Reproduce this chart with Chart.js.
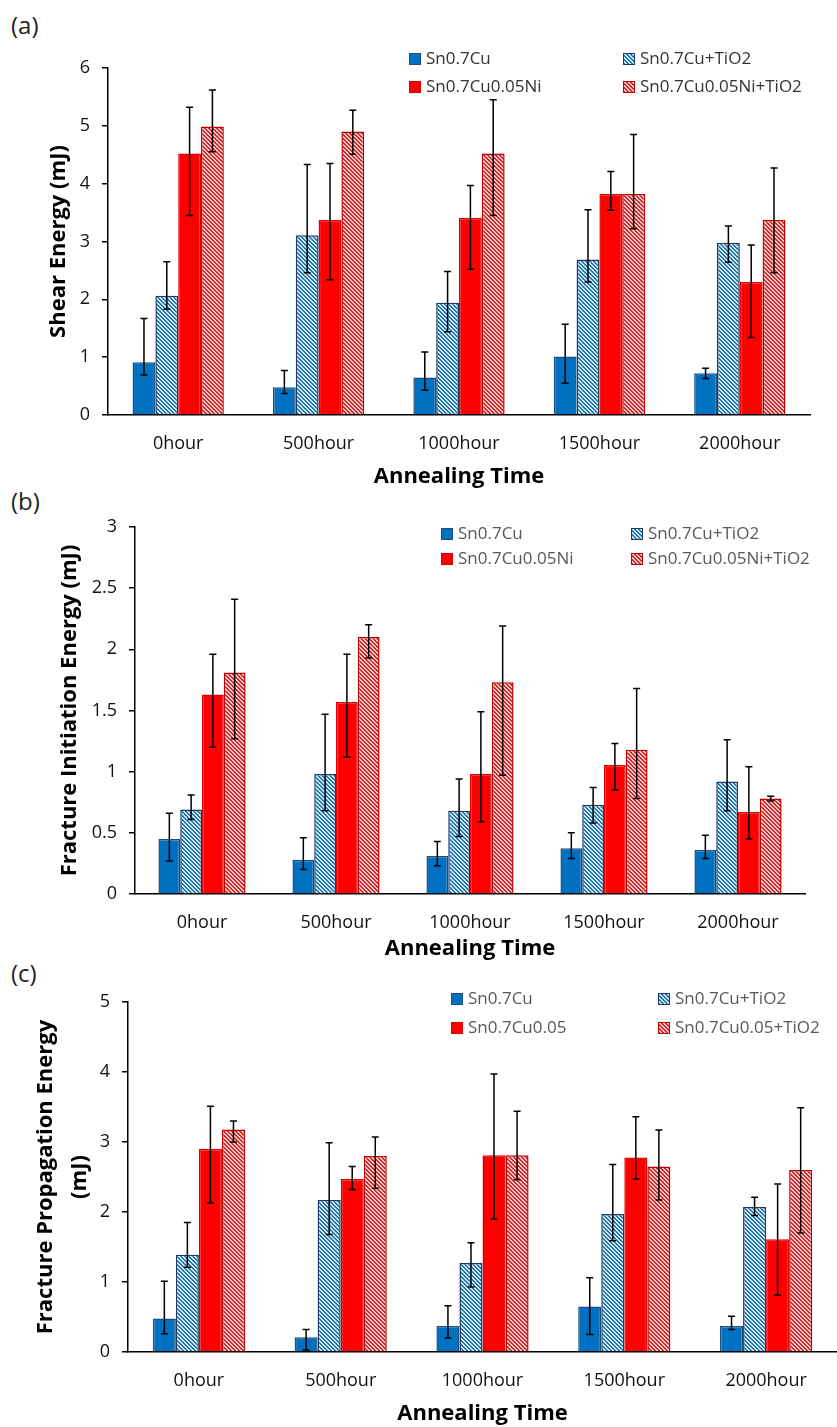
<!DOCTYPE html>
<html>
<head>
<meta charset="utf-8">
<script src="https://cdn.jsdelivr.net/npm/chart.js@4.4.0/dist/chart.umd.min.js"></script>
<style>
body { margin: 0; background: #fff; font-family: "Open Sans", sans-serif; }
#page { position: relative; width: 837px; height: 1427px; overflow: hidden; }
.panel { position: absolute; left: 0; width: 837px; }
.tag { position: absolute; left: 11px; font-size: 24px; color: #222; line-height: 28px; }
.leg { position: absolute; font-size: 17px; line-height: 20px; white-space: nowrap; }
.sw { display: inline-block; width: 12px; height: 12px; box-sizing: border-box; border: 1.5px solid; margin-right: 5px; position: relative; top: 1px; }
</style>
</head>
<body>
<div id="page">
	<div class="tag" style="top:11px">(a)</div>
	<div class="tag" style="top:487px">(b)</div>
	<div class="tag" style="top:959px">(c)</div>
	<div class="panel" style="top:0;height:490px"><canvas id="chartA"></canvas></div>
	<div class="panel" style="top:490px;height:472px"><canvas id="chartB"></canvas></div>
	<div class="panel" style="top:960px;height:467px"><canvas id="chartC"></canvas></div>
	<div id="legends"></div>
</div>
<script>
const hours = ['0hour', '500hour', '1000hour', '1500hour', '2000hour'];
const namesAB = ['Sn0.7Cu', 'Sn0.7Cu+TiO2', 'Sn0.7Cu0.05Ni', 'Sn0.7Cu0.05Ni+TiO2'];
const namesC = ['Sn0.7Cu', 'Sn0.7Cu+TiO2', 'Sn0.7Cu0.05', 'Sn0.7Cu0.05+TiO2'];

// (a) shear energy (mJ); Hi / Lo are the ends of the error bars
const shearCu = [0.91, 0.48, 0.65, 1.01, 0.72];
const shearCuHi = [1.67, 0.77, 1.09, 1.57, 0.81];
const shearCuLo = [0.69, 0.37, 0.43, 0.55, 0.63];
const shearCuTi = [2.06, 3.11, 1.94, 2.69, 2.98];
const shearCuTiHi = [2.65, 4.33, 2.48, 3.55, 3.27];
const shearCuTiLo = [1.83, 2.46, 1.44, 2.30, 2.64];
const shearNi = [4.52, 3.37, 3.41, 3.82, 2.30];
const shearNiHi = [5.32, 4.35, 3.97, 4.21, 2.94];
const shearNiLo = [3.45, 2.34, 2.52, 3.54, 1.34];
const shearNiTi = [4.99, 4.90, 4.52, 3.82, 3.37];
const shearNiTiHi = [5.62, 5.27, 5.45, 4.85, 4.27];
const shearNiTiLo = [4.55, 4.51, 3.45, 3.22, 2.46];
const shearTicks = [0, 6, 1];

// (b) fracture initiation energy (mJ)
const initCu = [0.45, 0.28, 0.31, 0.375, 0.36];
const initCuHi = [0.66, 0.46, 0.43, 0.50, 0.48];
const initCuLo = [0.27, 0.20, 0.23, 0.29, 0.29];
const initCuTi = [0.69, 0.98, 0.68, 0.73, 0.92];
const initCuTiHi = [0.81, 1.47, 0.94, 0.87, 1.26];
const initCuTiLo = [0.61, 0.68, 0.47, 0.58, 0.68];
const initNi = [1.63, 1.57, 0.98, 1.055, 0.67];
const initNiHi = [1.96, 1.96, 1.49, 1.23, 1.04];
const initNiLo = [1.20, 1.12, 0.59, 0.85, 0.45];
const initNiTi = [1.81, 2.10, 1.73, 1.18, 0.78];
const initNiTiHi = [2.41, 2.20, 2.19, 1.68, 0.80];
const initNiTiLo = [1.27, 1.93, 0.97, 0.78, 0.76];
const initTicks = [0, 3, 0.5];

// (c) fracture propagation energy (mJ)
const propCu = [0.48, 0.21, 0.37, 0.65, 0.37];
const propCuHi = [1.01, 0.32, 0.66, 1.06, 0.51];
const propCuLo = [0.26, 0.03, 0.20, 0.25, 0.32];
const propCuTi = [1.39, 2.17, 1.27, 1.97, 2.07];
const propCuTiHi = [1.85, 2.99, 1.56, 2.68, 2.21];
const propCuTiLo = [1.21, 1.68, 0.93, 1.59, 1.95];
const propNi = [2.90, 2.47, 2.81, 2.78, 1.61];
const propNiHi = [3.51, 2.65, 3.97, 3.36, 2.40];
const propNiLo = [2.13, 2.32, 1.90, 2.47, 0.81];
const propNiTi = [3.18, 2.80, 2.81, 2.65, 2.60];
const propNiTiHi = [3.30, 3.07, 3.44, 3.17, 3.49];
const propNiTiLo = [3.00, 2.34, 2.46, 2.17, 1.70];
const propTicks = [0, 5, 1];

const FONT = '"Open Sans", sans-serif';

// diagonal hatch like Excel's "wide downward diagonal"
function makeHatch(bg, fg) {
	let tile = document.createElement('canvas');
	tile.width = 4;
	tile.height = 4;
	let c = tile.getContext('2d');
	c.fillStyle = bg;
	c.fillRect(0, 0, 4, 4);
	c.fillStyle = fg;
	for (let y = 0; y < 4; y++) {
		for (let x = 0; x < 4; x++) {
			let d = ((x - y) % 4 + 4) % 4;
			if (d == 0 || d == 1) c.fillRect(x, y, 1, 1);
		}
	}
	return c.createPattern(tile, 'repeat');
}

const fills = ['#0070C0', makeHatch('#CFE6F1', '#2478A8'), '#FF0000', makeHatch('#F6CACA', '#CC2A2A')];
const borders = ['#1F4E79', '#1F3864', '#E00000', '#C00000'];

const errorBars = {
	id: 'errorBars',
	afterDatasetsDraw(chart) {
		const ctx = chart.ctx;
		const y = chart.scales.y;
		ctx.save();
		ctx.strokeStyle = '#000';
		ctx.lineWidth = 1.5;
		chart.data.datasets.forEach(function(ds, i) {
			chart.getDatasetMeta(i).data.forEach(function(bar, j) {
				let top = y.getPixelForValue(ds.errHi[j]);
				let bot = y.getPixelForValue(ds.errLo[j]);
				ctx.beginPath();
				ctx.moveTo(bar.x, top); ctx.lineTo(bar.x, bot);
				ctx.moveTo(bar.x - 3.5, top); ctx.lineTo(bar.x + 3.5, top);
				ctx.moveTo(bar.x - 3.5, bot); ctx.lineTo(bar.x + 3.5, bot);
				ctx.stroke();
			});
		});
		ctx.restore();
	}
};

function buildChart(id, names, vals, his, los, ticks, yTitle, g) {
	let datasets = [];
	for (let i = 0; i < 4; i++) {
		datasets.push({
			label: names[i],
			data: vals[i],
			errHi: his[i],
			errLo: los[i],
			backgroundColor: fills[i],
			borderColor: borders[i],
			borderWidth: 1.5,
			barPercentage: 1,
			categoryPercentage: 0.65
		});
	}
	return new Chart(document.getElementById(id).getContext('2d'), {
		type: 'bar',
		data: { labels: hours, datasets: datasets },
		options: {
			responsive: true,
			maintainAspectRatio: false,
			animation: false,
			layout: { padding: { top: g.top, right: g.right, bottom: 0, left: 0 } },
			plugins: { legend: { display: false }, tooltip: { enabled: false } },
			scales: {
				x: {
					grid: { display: false, drawTicks: false },
					border: { display: true, color: '#000', width: 1.5 },
					ticks: { color: '#111', padding: g.xPad, font: { family: FONT, size: 18 } },
					title: { display: true, text: 'Annealing Time', color: '#000', padding: 0,
						font: { family: FONT, size: 22, weight: 'bold' } },
					afterFit: function(s) { s.height = g.xH; }
				},
				y: {
					min: ticks[0],
					max: ticks[1],
					ticks: {
						stepSize: ticks[2], color: '#111', padding: 12, font: { family: FONT, size: 18 },
						callback: function(v) { return String(Math.round(v * 100) / 100); }
					},
					grid: { display: true, drawOnChartArea: false, drawTicks: true, tickLength: 6, color: '#000', lineWidth: 1.5 },
					border: { display: true, color: '#000', width: 1.5 },
					title: { display: true, text: yTitle, color: '#000', padding: { top: g.tPad, bottom: 0 },
						font: { family: FONT, size: 22, weight: 'bold', lineHeight: g.lh } },
					afterFit: function(s) { s.width = g.yW; }
				}
			}
		},
		plugins: [errorBars]
	});
}

buildChart('chartA', namesAB,
	[shearCu, shearCuTi, shearNi, shearNiTi],
	[shearCuHi, shearCuTiHi, shearNiHi, shearNiTiHi],
	[shearCuLo, shearCuTiLo, shearNiLo, shearNiTiLo],
	shearTicks, 'Shear Energy (mJ)',
	{ top: 68, right: 27, xH: 75, xPad: 18, yW: 108, tPad: 46, lh: 1.2 });

buildChart('chartB', namesAB,
	[initCu, initCuTi, initNi, initNiTi],
	[initCuHi, initCuTiHi, initNiHi, initNiTiHi],
	[initCuLo, initCuTiLo, initNiLo, initNiTiLo],
	initTicks, 'Fracture Initiation Energy (mJ)',
	{ top: 37, right: 32, xH: 68, xPad: 18, yW: 135, tPad: 57, lh: 1.2 });

buildChart('chartC', namesC,
	[propCu, propCuTi, propNi, propNiTi],
	[propCuHi, propCuTiHi, propNiHi, propNiTiHi],
	[propCuLo, propCuTiLo, propNiLo, propNiTiLo],
	propTicks, ['Fracture Propagation Energy', '(mJ)'],
	{ top: 42, right: 0, xH: 75, xPad: 18, yW: 128, tPad: 29, lh: 1.55 });

// legends, two rows by two columns, inside each plot
const swatchCss = [
	'background:#0070C0;border-color:#1F4E79',
	'background:repeating-linear-gradient(45deg,#2478A8 0 1.4px,#CFE6F1 1.4px 2.8px);border-color:#1F3864',
	'background:#FF0000;border-color:#E00000',
	'background:repeating-linear-gradient(45deg,#CC2A2A 0 1.4px,#F6CACA 1.4px 2.8px);border-color:#C00000'
];
function addLegend(names, cols, rows, color) {
	let box = document.getElementById('legends');
	for (let i = 0; i < 4; i++) {
		let d = document.createElement('div');
		d.className = 'leg';
		d.style.left = cols[i % 2] + 'px';
		d.style.top = (rows[Math.floor(i / 2)] - 10) + 'px';
		d.style.color = color;
		d.innerHTML = '<span class="sw" style="' + swatchCss[i] + '"></span>' + names[i];
		box.appendChild(d);
	}
}
addLegend(namesAB, [409, 623], [58, 86], '#333');
addLegend(namesAB, [441, 631], [533, 558], '#595959');
addLegend(namesC, [451, 658], [998, 1027], '#595959');
</script>
</body>
</html>
